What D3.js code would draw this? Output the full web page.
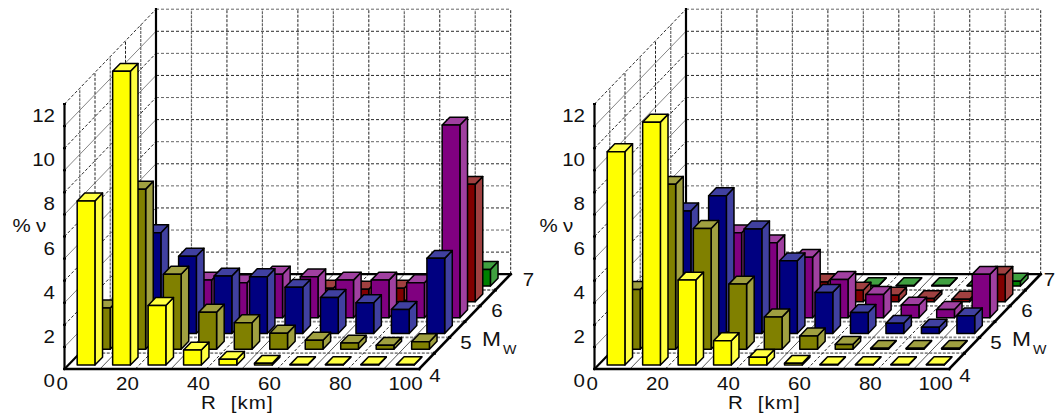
<!DOCTYPE html>
<html><head><meta charset="utf-8">
<script src="https://cdn.jsdelivr.net/npm/d3@7"></script>
<style>html,body{margin:0;padding:0;background:#fff}svg{display:block}text{font-family:"Liberation Sans",Arial,sans-serif;fill:#111}</style>
</head><body><script>
// values in %, one array per magnitude row, ten distance bins (null = no visible bar)
const xTicks = [0,20,40,60,80,100];
const yTicks = [0,2,4,6,8,10,12];
const depthTicks = [4,5,6,7];
const rowColors = [["#ffff00","#ffff40"],["#808000","#a0a040"],["#000080","#4040a0"],["#800080","#a040a0"],["#800000","#a04040"],["#008000","#40a040"]];

const leftM4  = [7.43,13.3,2.7,0.68,0.26,0.08,0.02,0.02,0.02,0.02];
const leftM45 = [1.87,7.25,3.4,1.68,1.2,0.73,0.41,0.28,0.18,0.34];
const leftM5  = [null,4.56,3.5,2.6,2.57,2.09,1.63,1.39,1.09,3.4];
const leftM55 = [null,null,1.7,1.58,1.97,1.85,1.7,1.7,1.58,8.72];
const leftM6  = [null,null,null,null,0.5,0.62,0.57,0.62,null,5.32];
const leftM65 = [null,null,null,null,null,null,null,null,null,0.75];

const rightM4  = [9.66,11.0,3.85,1.1,0.35,0.08,0.02,0.02,0.02,0.02];
const rightM45 = [2.71,7.47,5.47,2.95,1.46,0.6,0.22,0.04,0.04,0.04];
const rightM5  = [null,5.55,6.24,4.73,3.29,1.86,0.95,0.46,0.28,0.8];
const rightM55 = [null,null,3.84,3.39,2.73,1.73,1.05,0.57,0.37,1.96];
const rightM6  = [null,null,null,null,0.9,0.53,0.3,0.15,0.12,1.24];
const rightM65 = [null,null,null,null,null,0.02,0.02,0.02,0.02,0.22];

const panels = [
  {ox:0, labelOx:0, rows:[leftM4,leftM45,leftM5,leftM55,leftM6,leftM65]},
  {ox:530, labelOx:527, rows:[rightM4,rightM45,rightM5,rightM55,rightM6,rightM65]}
];

const svg = d3.select("body").append("svg").attr("width",1056).attr("height",417);
const xS = d3.scaleLinear().domain([0,100]).range([0,354.7]);
const dX = d3.scaleLinear().domain([0,6]).range([0,91.5]);
const dY = d3.scaleLinear().domain([0,6]).range([0,94.8]);
const hS = d3.scaleLinear().domain([0,12]).range([0,265]);
const X0 = 64.5, Y0 = 369;

panels.forEach(p=>{
  const g = svg.append("g").attr("transform",`translate(${p.ox},0)`);
  // project (R, depth, value) to the page
  const px = (r,d)=>X0+xS(r)+dX(d);
  const py = (d,v)=>Y0-dY(d)-hS(v);
  const ln = (a,b,cls)=>{
    const s = g.append("line").attr("x1",a[0]).attr("y1",a[1]).attr("x2",b[0]).attr("y2",b[1]);
    if(cls==="dash") s.attr("stroke","#111").attr("stroke-width",0.9).attr("stroke-dasharray","3 2");
    if(cls==="thin") s.attr("stroke","#777").attr("stroke-width",0.9);
    if(cls==="vd") s.attr("stroke","#222").attr("stroke-width",1).attr("stroke-dasharray","3 1.5");
    if(cls==="vg") s.attr("stroke","#666").attr("stroke-width",1.2).attr("stroke-dasharray","3 1");
    if(cls==="fl") s.attr("stroke","#888").attr("stroke-width",1.8).attr("stroke-dasharray","3 1.5");
    if(cls==="axis") s.attr("stroke","#000").attr("stroke-width",2.2).attr("stroke-linecap","square");
    return s;
  };
  // walls: level lines
  d3.range(1,13).forEach(v=>{
    ln([px(0,6),py(6,v)],[px(100,6),py(6,v)], "dash").attr("stroke", v%2?"#111":"#555");
    ln([px(0,0),py(0,v)],[px(0,6),py(6,v)], v%2 ? "thin":"dash");
  });
  // back wall verticals, left wall verticals
  d3.range(10,101,10).forEach((r,i)=>ln([px(r,6),py(6,0)],[px(r,6),py(6,12)], i%2?"vd":"vg"));
  d3.range(1,6).forEach((d,i)=>ln([px(0,d),py(d,0)],[px(0,d),py(d,12)], i%2?"vd":"vg"));
  // floor
  d3.range(1,6).forEach(d=>ln([px(0,d),py(d,0)],[px(100,d),py(d,0)],"fl"));
  d3.range(10,100,10).forEach((r,i)=>ln([px(r,0),py(0,0)],[px(r,6),py(6,0)], i%2?"dash":"thin").attr("stroke",i%2?"#111":"#444"));
  // frame
  ln([px(0,6),py(6,0)],[px(0,6),py(6,12)],"axis");
  ln([px(0,6),py(6,0)],[px(100,6),py(6,0)],"axis");
  ln([px(0,0),py(0,0)],[px(0,0),py(0,12)],"axis");
  ln([px(0,0),py(0,0)],[px(100,0),py(0,0)],"axis").attr("stroke-width",2.6);
  ln([px(0,0),py(0,0)],[px(0,6),py(6,0)],"axis");
  ln([px(100,0),py(0,0)],[px(100,6),py(6,0)],"axis").attr("stroke-width",2.6);
  // axis ticks on the left spine
  g.selectAll(".tk").data(d3.range(1,13)).join("rect").attr("class","tk")
    .attr("x",X0-1.5).attr("width",3).attr("y",v=>py(0,v)-1).attr("height",2).attr("fill","#000");
  // right-edge tick dots
  d3.range(1,6).forEach(d=>g.append("rect").attr("x",px(100,d)-1.5).attr("y",py(d,0)-1.5).attr("width",3).attr("height",3).attr("fill","#000"));

  // bars: back row to front
  const faceStyle = s=>s.attr("stroke","#000").attr("stroke-width",1.5).attr("stroke-linejoin","round");
  for(let ri=5;ri>=0;ri--){
    const rowG = g.append("g");
    const items = p.rows[ri].map((v,i)=>({v,i})).filter(o=>o.v!==null);
    const bar = rowG.selectAll("g").data(items).join("g");
    const x0 = o=>o.i*10+2.5, x1 = o=>o.i*10+7.5;
    const d0 = ri+0.25, d1 = ri+0.75;
    const path = pts=>"M"+pts.map(q=>q.join(",")).join("L")+"Z";
    faceStyle(bar.append("path").attr("fill",rowColors[ri][1]).attr("d",o=>path([
      [px(x1(o),d0),py(d0,0)],[px(x1(o),d1),py(d1,0)],[px(x1(o),d1),py(d1,o.v)],[px(x1(o),d0),py(d0,o.v)]])));
    faceStyle(bar.append("path").attr("fill",rowColors[ri][1]).attr("d",o=>path([
      [px(x0(o),d0),py(d0,o.v)],[px(x1(o),d0),py(d0,o.v)],[px(x1(o),d1),py(d1,o.v)],[px(x0(o),d1),py(d1,o.v)]])));
    faceStyle(bar.append("rect").attr("fill",rowColors[ri][0])
      .attr("x",o=>px(x0(o),d0)).attr("width",o=>xS(5))
      .attr("y",o=>py(d0,o.v)).attr("height",o=>hS(o.v)));
  }

  // text helper: stretched horizontally like the original
  const lab = (x,y,t,size,anchor,spacing)=>g.append("text")
    .attr("transform",`translate(${x},${y}) scale(1.14,1)`)
    .attr("text-anchor",anchor||"end").attr("font-size",size)
    .style("letter-spacing",spacing||0).style("white-space","pre").text(t);
  const off = p.labelOx-p.ox;
  xTicks.forEach(t=>lab(X0+xS(t)+3.5,390,t,18));
  yTicks.forEach(t=>lab(X0-9.5,py(0,t)+18,t,18));
  const dk = d3.scaleLinear().domain([4,7]).range([0,6]);
  // the top depth label of the right panel sits further in so it stays on the page
  depthTicks.forEach(t=>lab(px(100,dk(t))+(t===4?10:t===5?10.5:t===6?11:(p.ox?3:12)),py(dk(t),0)+(t===4?12.5:11.5),t,18,"start"));
  lab(12.5+off,232,"%",18,"start");
  lab(36+off,232,"ν",18,"start");
  lab(201+off,409,"R  [km]",18,"start","1px");
  lab(482,346,"M",20,"start");
  lab(503,354,"W",12.5,"start");
});
</script></body></html>
